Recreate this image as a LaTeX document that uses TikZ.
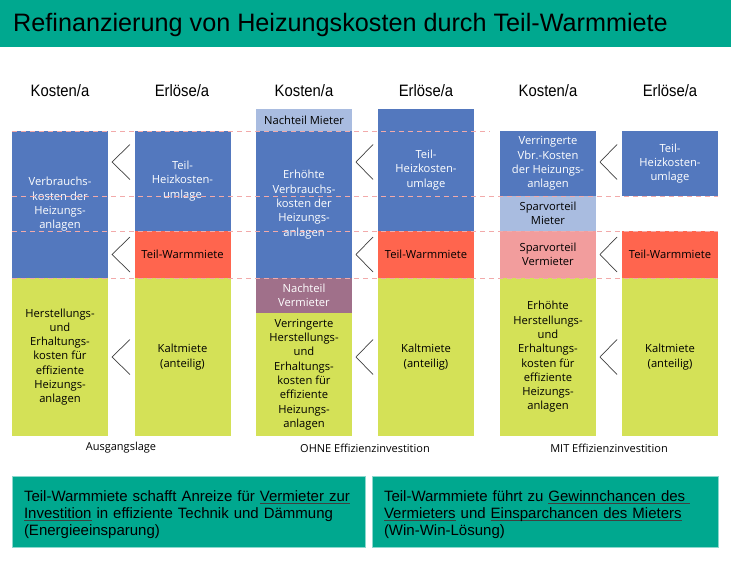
\documentclass[tikz,border=0pt]{standalone}
\usepackage{fontspec}
\setmainfont{Open Sans}
\newfontfamily\headfont[FakeStretch=0.9]{Liberation Sans}
\newfontfamily\notefont{Liberation Sans}
\usepackage{tikz}
\usetikzlibrary{positioning}
\definecolor{banner}{HTML}{00A88F}
\definecolor{costblue}{HTML}{5378BE}
\definecolor{paleblue}{HTML}{A9BCE0}
\definecolor{warmred}{HTML}{FF654E}
\definecolor{coldgreen}{HTML}{D4E157}
\definecolor{rosepink}{HTML}{F29D9D}
\definecolor{mauve}{HTML}{A0708A}
\definecolor{seppink}{HTML}{F2AAAA}
\definecolor{chevgray}{HTML}{404040}
\newcommand{\undl}[1]{\leavevmode\setbox0\hbox{#1}\rlap{\color{chevgray}\rule[-2.4pt]{\wd0}{0.7pt}}\box0\relax}

\begin{document}
\begin{tikzpicture}[x=1pt, y=-1pt,
  blk/.style={rectangle, inner sep=0pt, minimum width=96pt, align=center, font=\fontsize{11.2}{14.3}\selectfont},
  head/.style={font=\headfont\fontsize{16.5}{18}\selectfont},
  grp/.style={font=\fontsize{11}{12}\selectfont},
  note/.style={rectangle, fill=banner, draw=banner!45!white, line width=0.8pt, inner xsep=12pt, minimum height=71pt, align=left, font=\notefont\fontsize{15}{17}\selectfont},
  sep/.style={draw=seppink, dash pattern=on 5pt off 4pt, line width=0.9pt},
  chev/.style={draw=chevgray, line width=0.7pt}]
\useasboundingbox (0,0) rectangle (731,560);
\pgfmathsetmacro{\yA}{109}
\pgfmathsetmacro{\yB}{131}
\pgfmathsetmacro{\yC}{196}
\pgfmathsetmacro{\yD}{231}
\pgfmathsetmacro{\yE}{278}
\pgfmathsetmacro{\yF}{313}
\pgfmathsetmacro{\yG}{436}

% Title bar
\fill[banner] (0,0) rectangle (731,47);
\node[anchor=base west, inner sep=0pt, font=\notefont\fontsize{25.2}{28}\selectfont] (title) at (13,31) {Refinanzierung von Heizungskosten durch Teil-Warmmiete};

% Column heads
\foreach \cx/\lbl [count=\i] in {60/Kosten, 182/Erlöse, 304/Kosten, 426/Erlöse, 548/Kosten, 670/Erlöse}
  \node[head] (head\i) at (\cx,91) {\lbl/a};

% Ausgangslage
\node[blk, fill=costblue, text=white, minimum height=147pt] (k1blue) at (60,204.5) {Verbrauchs-\\kosten der\\Heizungs-\\anlagen};
\node[blk, fill=coldgreen, minimum height=158pt] (k1green) at (60,357) {Herstellungs-\\und\\Erhaltungs-\\kosten für\\effiziente\\Heizungs-\\anlagen};
\node[blk, fill=costblue, text=white, minimum height=100pt] (e1blue) at (182.5,181) {Teil-\\Heizkosten-\\umlage};
\node[blk, fill=warmred, minimum height=47pt] (e1red) at (182.5,254.5) {Teil-Warmmiete};
\node[blk, fill=coldgreen, minimum height=158pt] (e1green) at (182.5,357) {Kaltmiete\\(anteilig)};

% OHNE Effizienzinvestition
\node[blk, fill=paleblue, minimum height=22pt] (k2pale) at (304,120) {Nachteil Mieter};
\node[blk, fill=costblue, text=white, minimum height=147pt] (k2blue) at (304,204.5) {Erhöhte\\Verbrauchs-\\kosten der\\Heizungs-\\anlagen};
\node[blk, fill=mauve, text=white, minimum height=35pt] (k2mauve) at (304,295.5) {Nachteil\\Vermieter};
\node[blk, fill=coldgreen, minimum height=123pt] (k2green) at (304,374.5) {Verringerte\\Herstellungs-\\und\\Erhaltungs-\\kosten für\\effiziente\\Heizungs-\\anlagen};
\node[blk, fill=costblue, text=white, minimum height=122pt] (e2blue) at (426,170) {Teil-\\Heizkosten-\\umlage};
\node[blk, fill=warmred, minimum height=47pt] (e2red) at (426,254.5) {Teil-Warmmiete};
\node[blk, fill=coldgreen, minimum height=158pt] (e2green) at (426,357) {Kaltmiete\\(anteilig)};

% MIT Effizienzinvestition
\node[blk, fill=costblue, text=white, minimum height=65pt] (k3blue) at (548,163.5) {Verringerte\\Vbr.-Kosten\\der Heizungs-\\anlagen};
\node[blk, fill=paleblue, minimum height=35pt] (k3pale) at (548,213.5) {Sparvorteil\\Mieter};
\node[blk, fill=rosepink, minimum height=47pt] (k3pink) at (548,254.5) {Sparvorteil\\Vermieter};
\node[blk, fill=coldgreen, minimum height=158pt] (k3green) at (548,357) {Erhöhte\\Herstellungs-\\und\\Erhaltungs-\\kosten für\\effiziente\\Heizungs-\\anlagen};
\node[blk, fill=costblue, text=white, minimum height=65pt] (e3blue) at (670,163.5) {Teil-\\Heizkosten-\\umlage};
\node[blk, fill=warmred, minimum height=47pt] (e3red) at (670,254.5) {Teil-Warmmiete};
\node[blk, fill=coldgreen, minimum height=158pt] (e3green) at (670,357) {Kaltmiete\\(anteilig)};

% Dashed level lines
\draw[sep] (12,\yB) -- (490,\yB);
\foreach \yy in {\yC,\yD,\yE}
  \draw[sep] (12,\yy) -- (718,\yy);

% Chevrons between cost and revenue columns
\foreach \xt/\xo in {112/130, 356/373, 600/617}
  \foreach \yt in {162, 254.5, 357}
    \draw[chev] (\xo,\yt-17.5) -- (\xt,\yt) -- (\xo,\yt+17.5);

% Group labels
\node[grp] (grp1) at (121,448) {Ausgangslage};
\node[grp] (grp2) at (365,448) {OHNE Effizienzinvestition};
\node[grp] (grp3) at (609,448) {MIT Effizienzinvestition};

% Bottom notes
\node[note, text width=329pt] (note1) at (188.5,511.5) {\rule{0pt}{17pt}Teil-Warmmiete schafft Anreize für \undl{Vermieter zur}\\\undl{Investition} in effiziente Technik und Dämmung\\(Energieeinsparung)};
\node[note, text width=322pt] (note2) at (545,511.5) {\rule{0pt}{17pt}Teil-Warmmiete führt zu \undl{Gewinnchancen des\ }\\\undl{Vermieters} und \undl{Einsparchancen des Mieters}\\(Win-Win-Lösung)};
\end{tikzpicture}
\end{document}
